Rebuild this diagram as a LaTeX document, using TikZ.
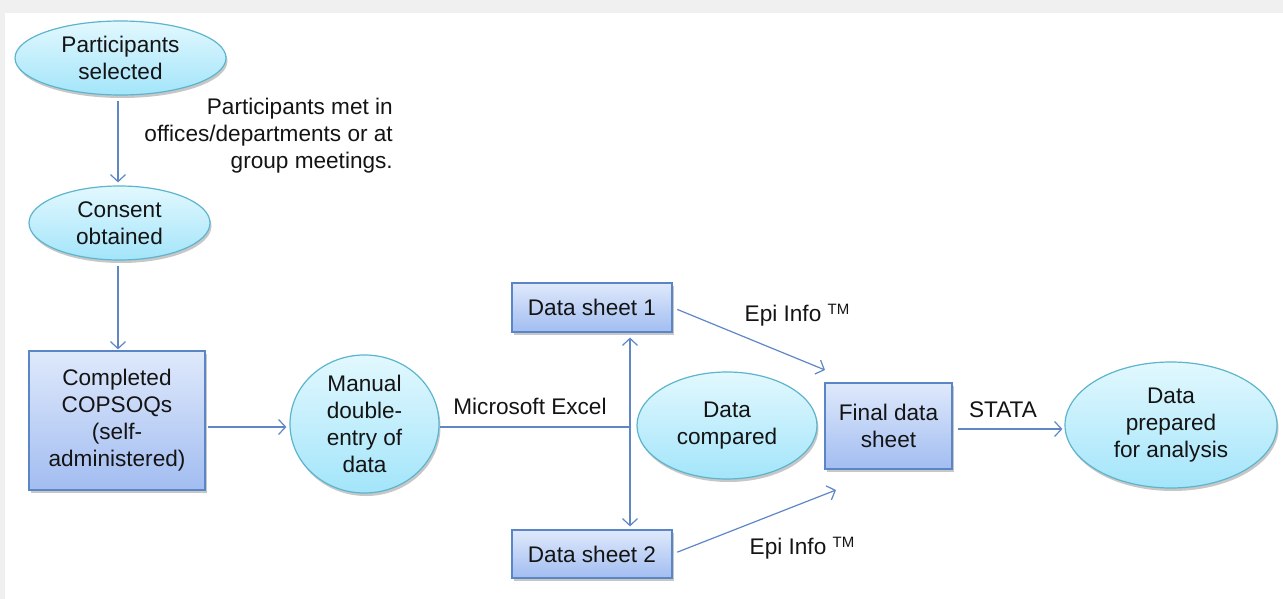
\documentclass[tikz,border=0pt]{standalone}
\usepackage{fontspec}
\setmainfont{Liberation Sans}
\usetikzlibrary{arrows.meta,shapes.geometric,shadows}
\definecolor{ellTop}{HTML}{E2F8FE}
\definecolor{ellBot}{HTML}{A3E5FA}
\definecolor{ellLine}{HTML}{5DB5CD}
\definecolor{boxTop}{HTML}{DFE9FB}
\definecolor{boxBot}{HTML}{A2BDF1}
\definecolor{boxLine}{HTML}{5A86C6}
\definecolor{arrCol}{HTML}{5F87C6}
\definecolor{txtCol}{HTML}{141414}
\definecolor{frameCol}{HTML}{F0F0F0}
\newcommand{\tmark}{\raisebox{0.55ex}{\fontsize{15}{15}\selectfont TM}}
\tikzset{
  every node/.style={font=\fontsize{22.6}{27}\selectfont, text=txtCol},
  ellnode/.style={ellipse, draw=ellLine, line width=1.2pt, top color=ellTop, bottom color=ellBot, inner sep=0pt, align=center,
     drop shadow={shadow xshift=1.5pt, shadow yshift=-3pt, opacity=0.22, fill=black}},
  boxnode/.style={rectangle, draw=boxLine, line width=1.2pt, top color=boxTop, bottom color=boxBot, inner sep=0pt, align=center,
     drop shadow={shadow xshift=1.5pt, shadow yshift=-3pt, opacity=0.22, fill=black}},
  lbl/.style={inner sep=0pt, align=center},
  conn/.style={draw=arrCol, line width=1.2pt},
  arr/.style={conn, -{Straight Barb[length=7pt,width=15pt,line width=1.2pt]}},
  darr/.style={conn, {Straight Barb[length=7pt,width=15pt,line width=1.2pt]}-{Straight Barb[length=7pt,width=15pt,line width=1.2pt]}},
}
\begin{document}
\begin{tikzpicture}[x=1pt,y=-1pt]
\useasboundingbox (0,0) rectangle (1283,599);
\fill[white] (0,0) rectangle (1283,599);
\fill[frameCol] (0,0) rectangle (1283,13);
\fill[frameCol] (0,0) rectangle (5,599);

% nodes
\node[ellnode, minimum width=211pt, minimum height=74pt] (ps) at (120.5,58) {Participants\\selected};
\node[ellnode, minimum width=181pt, minimum height=74pt] (co) at (119.5,223) {Consent\\obtained};
\node[boxnode, minimum width=176pt, minimum height=139pt] (cq) at (117,420.5) {Completed\\COPSOQs\\(self-\\administered)};
\node[ellnode, minimum width=149pt, minimum height=138pt] (md) at (364.5,424) {Manual\\double-\\entry of\\data};
\node[boxnode, minimum width=160pt, minimum height=49pt] (d1) at (592,307.5) {Data sheet 1};
\node[boxnode, minimum width=160pt, minimum height=48pt] (d2) at (592,554) {Data sheet 2};
\node[ellnode, minimum width=180pt, minimum height=107pt] (dc) at (727,425.5) {Data\\compared};
\node[boxnode, minimum width=127pt, minimum height=86pt] (fd) at (888.5,426) {Final data\\sheet};
\node[ellnode, minimum width=212pt, minimum height=126pt] (dp) at (1171,425) {Data\\prepared\\for analysis};

% labels
\node[lbl, align=right, anchor=east] (lmeet) at (393,136) {Participants met in\\offices/departments or at\\group meetings.};
\node[lbl] (lxl) at (530,406) {Microsoft Excel};
\node[lbl] (lepi1) at (797,315) {Epi Info \tmark};
\node[lbl] (lepi2) at (802,548) {Epi Info \tmark};
\node[lbl] (lst) at (1003,410) {STATA};

% coordinates
\coordinate (j) at (630,427);
\coordinate (t1) at (825,370);
\coordinate (t2) at (836,490);
\coordinate (vx) at (118,0);

% connectors
\draw[arr, shorten <=5pt, shorten >=3pt] (ps.south -| vx) -- (co.north -| vx);
\draw[arr, shorten <=5pt, shorten >=1pt] (co.south -| vx) -- (cq.north -| vx);
\draw[arr, shorten <=2pt, shorten >=3pt] (cq.east |- j) -- (md.west |- j);
\draw[conn] (md.east |- j) -- (j);
\draw[darr, shorten <=5pt, shorten >=3pt] (d1.south -| j) -- (d2.north -| j);
\draw[arr, shorten <=5pt] (d1.east) -- (t1);
\draw[arr, shorten <=5pt] (d2.east) -- (t2);
\draw[arr, shorten <=5pt, shorten >=2pt] (fd.east |- 0,429) -- (dp.west |- 0,429);
\end{tikzpicture}
\end{document}
